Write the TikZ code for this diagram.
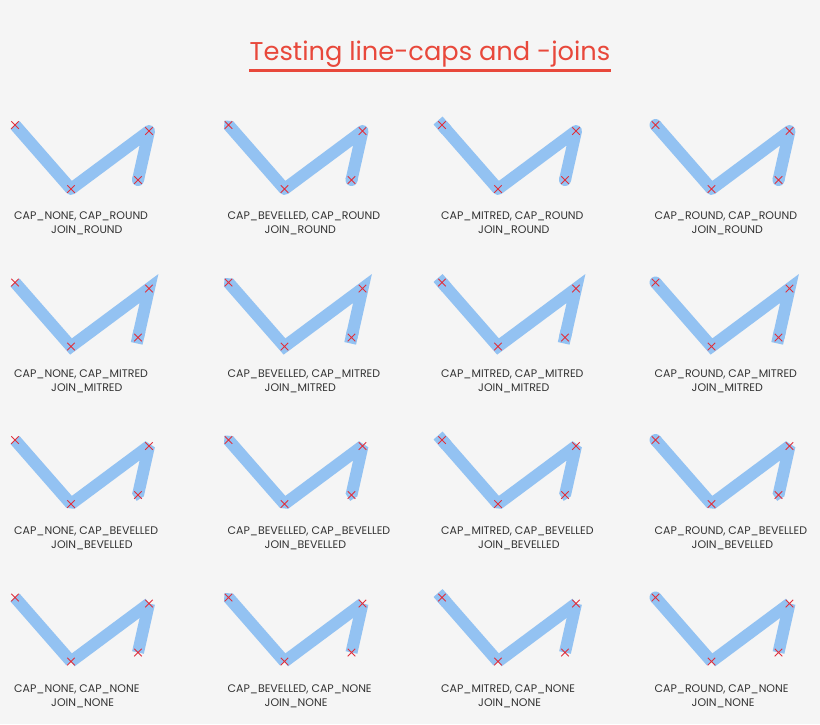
\documentclass[tikz,border=0pt]{standalone}
\usepackage{fontspec}
\setmainfont{Poppins}
\usepackage{tikz}
\usetikzlibrary{calc, shapes.misc}
\definecolor{pagegray}{HTML}{F5F5F5}
\definecolor{lineblue}{HTML}{93C2F2}
\definecolor{markred}{HTML}{E0303C}
\definecolor{titlered}{HTML}{E8483B}
\definecolor{notegray}{HTML}{333333}
\tikzset{
    lcstroke/.style = {draw=lineblue, line width=12pt, line cap=butt},
    xmark/.style = {draw=markred, cross out, line width=1pt, minimum size=6.5pt, inner sep=0pt},
    cellnote/.style = {anchor=base west, inner sep=0pt, text=notegray, font=\fontsize{11}{13}\selectfont},
    titlenode/.style = {anchor=base, inner sep=0pt, text=titlered, font=\fontsize{25.7}{30}\selectfont}
}
% joins
\newcommand{\lcstrokeROUND}[1]{\draw[lcstroke, line join=round] (#1a) -- (#1b) -- (#1c) -- (#1d);}
\newcommand{\lcstrokeMITRED}[1]{\draw[lcstroke, line join=miter] (#1a) -- (#1b) -- (#1c) -- (#1d);}
\newcommand{\lcstrokeBEVELLED}[1]{\draw[lcstroke, line join=bevel] (#1a) -- (#1b) -- (#1c) -- (#1d);}
\newcommand{\lcstrokeNONE}[1]{\draw[lcstroke] (#1a) -- (#1b); \draw[lcstroke] (#1b) -- (#1c); \draw[lcstroke] (#1c) -- (#1d);}
% caps
\newcommand{\lccapNONE}[2]{}
\newcommand{\lccapROUND}[2]{\draw[lcstroke, line cap=round] (#1) -- ($(#1)!1pt!(#2)$);}
\newcommand{\lccapMITRED}[2]{\draw[lcstroke, line cap=rect] (#1) -- ($(#1)!1pt!(#2)$);}
\newcommand{\lccapBEVELLED}[2]{\fill[lineblue] ($(#1)!6pt!90:(#2)$) -- ($(#1)!-6pt!(#2)$) -- ($(#1)!6pt!-90:(#2)$) -- cycle;}
% one cell: name, x, y, start cap, end cap, join
\newcommand{\lccell}[6]{%
  \begin{scope}[shift={(#2,#3)}]
    \coordinate (#1a) at (15,125);
    \coordinate (#1b) at (71,189);
    \coordinate (#1c) at (149,131);
    \coordinate (#1d) at (138,180);
    \csname lcstroke#6\endcsname{#1}
    \csname lccap#4\endcsname{#1a}{#1b}
    \csname lccap#5\endcsname{#1d}{#1c}
    \foreach \p in {a,b,c,d} \node[xmark] (#1\p-x) at (#1\p) {};
    \node[cellnote] (#1top) at (14,219.5) {CAP\_#4, CAP\_#5};
    \node[cellnote] (#1bot) at (51,233.5) {JOIN\_#6};
  \end{scope}}

\begin{document}
\begin{tikzpicture}[x=1pt, y=-1pt]
    \fill[pagegray] (0,0) rectangle (820,724);
    \useasboundingbox (0,0) rectangle (820,724);

    \node [titlenode, name=title] at (430,60) {Testing line-caps and -joins};
    \draw [titlered, line width=3pt] (title.base west) ++(0,10) coordinate (ul) -- (ul -| title.base east);

    \lccell{c11}{0}{0}{NONE}{ROUND}{ROUND}
    \lccell{c12}{213.5}{0}{BEVELLED}{ROUND}{ROUND}
    \lccell{c13}{427}{0}{MITRED}{ROUND}{ROUND}
    \lccell{c14}{640.5}{0}{ROUND}{ROUND}{ROUND}

    \lccell{c21}{0}{157.5}{NONE}{MITRED}{MITRED}
    \lccell{c22}{213.5}{157.5}{BEVELLED}{MITRED}{MITRED}
    \lccell{c23}{427}{157.5}{MITRED}{MITRED}{MITRED}
    \lccell{c24}{640.5}{157.5}{ROUND}{MITRED}{MITRED}

    \lccell{c31}{0}{315}{NONE}{BEVELLED}{BEVELLED}
    \lccell{c32}{213.5}{315}{BEVELLED}{BEVELLED}{BEVELLED}
    \lccell{c33}{427}{315}{MITRED}{BEVELLED}{BEVELLED}
    \lccell{c34}{640.5}{315}{ROUND}{BEVELLED}{BEVELLED}

    \lccell{c41}{0}{472.5}{NONE}{NONE}{NONE}
    \lccell{c42}{213.5}{472.5}{BEVELLED}{NONE}{NONE}
    \lccell{c43}{427}{472.5}{MITRED}{NONE}{NONE}
    \lccell{c44}{640.5}{472.5}{ROUND}{NONE}{NONE}
\end{tikzpicture}
\end{document}
